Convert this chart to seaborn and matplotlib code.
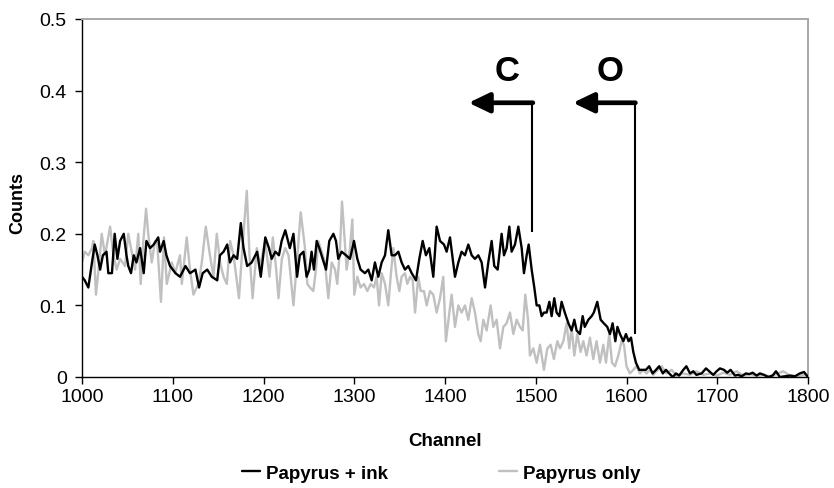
import matplotlib
matplotlib.use("Agg")
import matplotlib.pyplot as plt
import seaborn as sns
import pandas as pd

# ---------------- data ----------------
ink_channel = [1000, 1003, 1007, 1011, 1014, 1017, 1020, 1023, 1027, 1029, 1033, 1036, 1039, 1042, 1046,
               1049, 1051, 1054, 1057, 1060, 1064, 1068, 1071, 1075, 1079, 1084, 1086, 1090, 1093, 1097,
               1103, 1108, 1114, 1119, 1125, 1129, 1133, 1138, 1143, 1149, 1152, 1156, 1160, 1163, 1167,
               1171, 1175, 1178, 1182, 1187, 1193, 1197, 1202, 1206, 1209, 1213, 1217, 1220, 1224, 1229,
               1233, 1237, 1240, 1244, 1247.5, 1250.5, 1253, 1255.6, 1258.6, 1261.5, 1265.2, 1268.9, 1272.5,
               1277, 1279.9, 1282.4, 1286.1, 1290.9, 1295.3, 1299.7, 1303.4, 1307, 1311.8, 1315.5, 1319.2,
               1322.8, 1326.5, 1330.2, 1333.9, 1337.5, 1341.2, 1344.9, 1348.6, 1352.2, 1355.9, 1359.6,
               1363.3, 1368, 1371.7, 1375.4, 1379, 1382.7, 1387.1, 1390.8, 1394.5, 1398.9, 1401.8, 1405.5,
               1411, 1414.7, 1418.3, 1422, 1425.7, 1429.4, 1433, 1436.7, 1440.4, 1444.1, 1447.7, 1451.4,
               1454.3, 1458, 1462.4, 1465, 1467.9, 1470.9, 1473.4, 1477.1, 1480.8, 1484.5, 1487, 1490,
               1492.2, 1495.5, 1498.4, 1501, 1504, 1506.5, 1509, 1512, 1515, 1517.5, 1520.4, 1523, 1526,
               1528.5, 1532, 1536, 1539.5, 1542.5, 1545, 1548.7, 1551.7, 1554, 1558, 1561.6, 1564, 1567.8,
               1571.5, 1575, 1578.8, 1581.8, 1584.7, 1587.7, 1590, 1592.8, 1596.5, 1599.4, 1602.3, 1605,
               1607.5, 1610.4, 1614, 1617.8, 1621.4, 1625, 1628.8, 1632.5, 1636, 1640, 1643.5, 1647, 1651,
               1654.5, 1658, 1662.6, 1666, 1670, 1673.6, 1677, 1682.8, 1687.6, 1692, 1695.6, 1699.3, 1703,
               1707.4, 1711, 1714.7, 1719.5, 1723, 1726.9, 1731.6, 1735.3, 1739, 1743.4, 1747, 1751.5,
               1756.2, 1761, 1764.7, 1769, 1774.6, 1780, 1785.6, 1791, 1795.6, 1800]
ink_counts = [0.14, 0.135, 0.125, 0.16, 0.185, 0.17, 0.15, 0.17, 0.175, 0.145, 0.145, 0.2, 0.165, 0.19, 0.2,
              0.17, 0.155, 0.145, 0.17, 0.16, 0.18, 0.145, 0.19, 0.18, 0.185, 0.195, 0.175, 0.19, 0.17, 0.155,
              0.145, 0.14, 0.155, 0.145, 0.15, 0.125, 0.145, 0.15, 0.14, 0.135, 0.17, 0.175, 0.185, 0.16, 0.17,
              0.165, 0.215, 0.18, 0.155, 0.16, 0.175, 0.14, 0.195, 0.18, 0.165, 0.175, 0.17, 0.19, 0.205, 0.18,
              0.2, 0.14, 0.17, 0.175, 0.14, 0.15, 0.175, 0.15, 0.19, 0.18, 0.165, 0.15, 0.19,
              0.2, 0.19, 0.165, 0.175, 0.17, 0.165, 0.19, 0.165, 0.15, 0.145, 0.15, 0.135,
              0.16, 0.14, 0.16, 0.17, 0.205, 0.17, 0.17, 0.175, 0.16, 0.15, 0.155,
              0.145, 0.135, 0.165, 0.19, 0.17, 0.18, 0.14, 0.21, 0.19, 0.185, 0.175, 0.195,
              0.14, 0.16, 0.175, 0.17, 0.185, 0.17, 0.165, 0.17, 0.16, 0.125, 0.16, 0.19,
              0.155, 0.15, 0.2, 0.17, 0.18, 0.21, 0.175, 0.185, 0.21, 0.18, 0.145, 0.17,
              0.185, 0.15, 0.125, 0.1, 0.1, 0.085, 0.09, 0.09, 0.105, 0.085, 0.11, 0.09, 0.085,
              0.105, 0.09, 0.075, 0.065, 0.08, 0.065, 0.06, 0.085, 0.07, 0.08, 0.085, 0.09, 0.105,
              0.08, 0.075, 0.07, 0.06, 0.075, 0.05, 0.07, 0.06, 0.05, 0.06, 0.05, 0.055,
              0.035, 0.02, 0.01, 0.01, 0.01, 0.015, 0.005, 0.01, 0.015, 0.005, 0.01, 0.005, 0.0,
              0.005, 0.002, 0.01, 0.015, 0.005, 0.008, 0.003, 0.005, 0.012, 0.007, 0.003, 0.008, 0.012,
              0.01, 0.006, 0.01, 0.002, 0.003, 0.001, 0.005, 0.004, 0.006, 0.002, 0.005, 0.003,
              0.0, 0.002, 0.008, 0.0, 0.001, 0.002, 0.001, 0.005, 0.007, 0.0]

paper_channel = [1000, 1003, 1007, 1011, 1012.5, 1015.4, 1019, 1021.7, 1025.4, 1031, 1034.6, 1038.2, 1042,
                 1047.4, 1051, 1054.8, 1058.5, 1062, 1064.7, 1067.6, 1070.6, 1073, 1076.8, 1080.5, 1083,
                 1087, 1090.4, 1093.4, 1099, 1102.6, 1108, 1110, 1115.4, 1119, 1122.8, 1128.3, 1132,
                 1136.4, 1141, 1144.9, 1148.5, 1152.2, 1156, 1159.6, 1163.2, 1167, 1173, 1177, 1181.6,
                 1184.6, 1188, 1192.6, 1196.3, 1201.8, 1206.6, 1210.3, 1214, 1216.5, 1220.2, 1224, 1227.6,
                 1233, 1236.8, 1241, 1245.7, 1248.3, 1251.2, 1254.9, 1257.8, 1260.4, 1264, 1267.7, 1271.4,
                 1275.1, 1278.8, 1281.3, 1284.3, 1286.5, 1289, 1291.6, 1295.3, 1297.9, 1300, 1303.4, 1307,
                 1310.7, 1314.4, 1318.1, 1321.7, 1324.7, 1327.3, 1330.2, 1333.9, 1337.5, 1340.1, 1343,
                 1346.7, 1349.7, 1352.2, 1355.9, 1358.5, 1361.4, 1364.4, 1367, 1370.6, 1373.2, 1376.8,
                 1379.8, 1383.5, 1387.1, 1390.8, 1394.5, 1398.1, 1401, 1404.8, 1407.3, 1411, 1414.7,
                 1418.3, 1422, 1425.7, 1429.4, 1433, 1436.7, 1439.3, 1442.2, 1445.9, 1450.3, 1453.2,
                 1456.9, 1460.6, 1464.3, 1467.9, 1471.6, 1475.3, 1479, 1482.6, 1485.6, 1488.5, 1491.5,
                 1493.6, 1497.3, 1501, 1504.7, 1509, 1512.8, 1516.4, 1520, 1523.8, 1526.7, 1530.4, 1534,
                 1537, 1539.5, 1542.5, 1545.8, 1549.4, 1552.4, 1556, 1559.7, 1563.4, 1567, 1570.8, 1574.4,
                 1577.4, 1581, 1584, 1587.3, 1591, 1594.6, 1597.2, 1600, 1603.8, 1607.5, 1611, 1614.8,
                 1618.5, 1622, 1626, 1629.5, 1633, 1638.7, 1644, 1649.7, 1655, 1662.6, 1670, 1677, 1684.6,
                 1692, 1699.3, 1706.7, 1714, 1721.4, 1728.7, 1736, 1743.4, 1750.7, 1758, 1765.4, 1772.8,
                 1780, 1787.5, 1794.8, 1800]
paper_counts = [0.16, 0.175, 0.17, 0.18, 0.19, 0.115, 0.16, 0.2, 0.17, 0.21, 0.17, 0.15, 0.165,
                0.155, 0.2, 0.175, 0.15, 0.2, 0.13, 0.19, 0.235, 0.2, 0.16, 0.19, 0.185,
                0.105, 0.195, 0.13, 0.16, 0.145, 0.17, 0.13, 0.195, 0.15, 0.115, 0.13, 0.16,
                0.21, 0.17, 0.14, 0.2, 0.16, 0.14, 0.13, 0.19, 0.17, 0.11, 0.185, 0.26,
                0.17, 0.11, 0.18, 0.155, 0.19, 0.14, 0.195, 0.15, 0.11, 0.165, 0.18, 0.17,
                0.1, 0.16, 0.23, 0.18, 0.13, 0.125, 0.12, 0.15, 0.19, 0.175, 0.16, 0.11,
                0.16, 0.15, 0.13, 0.18, 0.245, 0.2, 0.15, 0.18, 0.22, 0.115, 0.14, 0.125,
                0.13, 0.12, 0.13, 0.125, 0.14, 0.1, 0.145, 0.13, 0.1, 0.14, 0.18,
                0.14, 0.12, 0.14, 0.145, 0.13, 0.14, 0.135, 0.09, 0.14, 0.12, 0.12,
                0.1, 0.12, 0.115, 0.09, 0.11, 0.14, 0.05, 0.09, 0.115, 0.07, 0.1,
                0.09, 0.1, 0.08, 0.11, 0.09, 0.06, 0.05, 0.08, 0.065, 0.1, 0.07,
                0.08, 0.04, 0.07, 0.075, 0.09, 0.06, 0.08, 0.07, 0.065, 0.115, 0.08,
                0.03, 0.04, 0.02, 0.045, 0.01, 0.04, 0.045, 0.025, 0.05, 0.04, 0.05, 0.075,
                0.04, 0.07, 0.03, 0.06, 0.035, 0.05, 0.03, 0.055, 0.025, 0.05, 0.02, 0.045,
                0.02, 0.06, 0.02, 0.015, 0.03, 0.05, 0.045, 0.015, 0.005, 0.01, 0.015, 0.005,
                0.01, 0.005, 0.01, 0.003, 0.008, 0.015, 0.005, 0.01, 0.002, 0.005, 0.003, 0.008, 0.003,
                0.005, 0.002, 0.006, 0.003, 0.008, 0.002, 0.004, 0.002, 0.003, 0.001, 0.004, 0.008,
                0.002, 0.001, 0.003, 0.001]

series_names = ["Papyrus + ink", "Papyrus only"]
series_colors = ["#000000", "#c0c0c0"]
x_ticks = [1000, 1100, 1200, 1300, 1400, 1500, 1600, 1700, 1800]
y_ticks = [0, 0.1, 0.2, 0.3, 0.4, 0.5]
y_tick_labels = ["0", "0.1", "0.2", "0.3", "0.4", "0.5"]
edge_labels = ["C", "O"]
edge_channels = [1496, 1609]        # vertical marker lines
edge_bottoms = [0.2025, 0.06]
edge_arrow_tips = [1426, 1541]
edge_top = 0.383

# ---------------- build table ----------------
df = pd.concat([
    pd.DataFrame({"Channel": ink_channel, "Counts": ink_counts, "Series": series_names[0]}),
    pd.DataFrame({"Channel": paper_channel, "Counts": paper_counts, "Series": series_names[1]}),
], ignore_index=True)

sns.set_theme(style="white")
plt.rcParams["font.family"] = ["Liberation Sans", "DejaVu Sans"]
plt.rcParams["text.color"] = "black"
plt.rcParams["axes.labelcolor"] = "black"
plt.rcParams["xtick.color"] = "black"
plt.rcParams["ytick.color"] = "black"

fig = plt.figure(figsize=(8.34, 4.89), dpi=100)
ax = fig.add_axes([82 / 834, 1 - 378 / 489, 726 / 834, 358 / 489])

# draw the gray series beneath the black one
sns.lineplot(data=df[df.Series == series_names[1]], x="Channel", y="Counts", ax=ax,
             color=series_colors[1], lw=1.7, estimator=None, label=series_names[1], zorder=2)
sns.lineplot(data=df[df.Series == series_names[0]], x="Channel", y="Counts", ax=ax,
             color=series_colors[0], lw=1.7, estimator=None, label=series_names[0], zorder=3)

ax.set_xlim(x_ticks[0], x_ticks[-1])
ax.set_ylim(y_ticks[0], y_ticks[-1])
ax.set_xticks(x_ticks)
ax.set_xticklabels([str(v) for v in x_ticks])
ax.set_yticks(y_ticks)
ax.set_yticklabels(y_tick_labels)
ax.tick_params(axis="both", labelsize=14, colors="black", direction="out", length=5, width=1)
ax.tick_params(axis="y", pad=6)
ax.tick_params(axis="x", pad=3)
ax.xaxis.set_ticks_position("bottom")
ax.yaxis.set_ticks_position("left")
for sp in ["left", "bottom"]:
    ax.spines[sp].set_color("black")
    ax.spines[sp].set_linewidth(1.0)
for sp in ["top", "right"]:
    ax.spines[sp].set_color("#a8a8a8")
    ax.spines[sp].set_linewidth(1.4)
ax.grid(False)

ax.set_xlabel("Channel", fontsize=13.5, fontweight="bold", color="black")
ax.set_ylabel("Counts", fontsize=13, fontweight="bold", color="black")
ax.xaxis.set_label_coords(0.5, -0.176)
ax.xaxis.label.set_va("center")
ax.yaxis.set_label_coords(-0.088, 0.49)
ax.yaxis.label.set_va("center")

# edge markers with arrows
for lab, xc, yb, tip in zip(edge_labels, edge_channels, edge_bottoms, edge_arrow_tips):
    ax.plot([xc, xc], [yb, edge_top], color="black", lw=1.5, solid_capstyle="butt", zorder=4)
    ax.annotate("", xy=(tip, edge_top), xytext=(xc + 0.8, edge_top),
                arrowprops=dict(arrowstyle="-|>,head_length=1.25,head_width=0.6",
                                lw=3.4, color="black", shrinkA=0, shrinkB=0,
                                mutation_scale=10), zorder=4)
    ax.text(xc - 27, 0.428, lab, fontsize=25, fontweight="bold", ha="center", va="center",
            color="black")

# legend at bottom
handles, labels = ax.get_legend_handles_labels()
order = [labels.index(n) for n in series_names]
ax.get_legend().remove()
leg = fig.legend([handles[i] for i in order], [labels[i] for i in order],
                 loc="center", bbox_to_anchor=(441 / 834, 15 / 489), ncol=2, frameon=False,
                 prop={"weight": "bold", "size": 13.5}, handlelength=1.0, handletextpad=0.3,
                 columnspacing=5.9)
for t in leg.get_texts():
    t.set_color("black")

fig.savefig("out.png", dpi=100)
